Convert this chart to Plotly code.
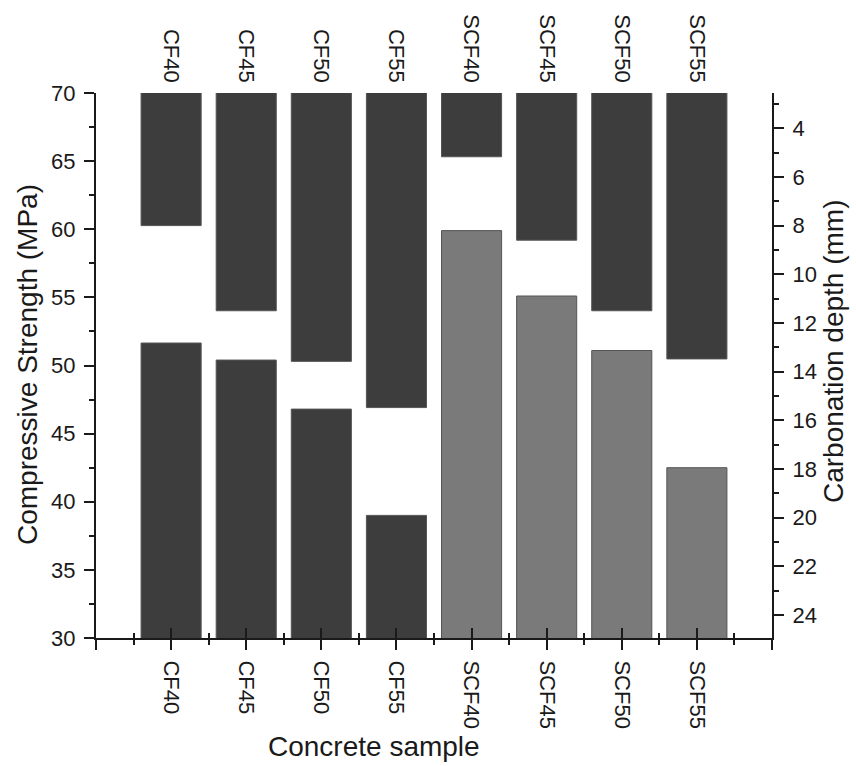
import plotly.graph_objects as go

# Concrete samples and measured properties
samples = ["CF40", "CF45", "CF50", "CF55", "SCF40", "SCF45", "SCF50", "SCF55"]
compressive_strength = [51.65, 50.4, 46.8, 39.0, 59.9, 55.1, 51.1, 42.5]   # MPa
carbonation_depth = [8.0, 11.5, 13.58, 15.48, 5.17, 8.6, 11.5, 13.48]      # mm

DARK = "#3d3d3d"
LIGHT = "#7a7a7a"
EDGE = "#555555"
AXIS = "#1a1a1a"
FONT = "Liberation Sans, Arial, sans-serif"

xpos = list(range(len(samples)))
strength_colors = [LIGHT if s.startswith("S") else DARK for s in samples]

fig = go.Figure()

# Compressive strength bars rising from the bottom axis
fig.add_trace(go.Bar(
    x=xpos, y=compressive_strength, width=0.8,
    marker=dict(color=strength_colors, line=dict(color=EDGE, width=1)),
    xaxis="x", yaxis="y", showlegend=False,
))

# Carbonation depth bars hanging from the top (reversed right axis)
fig.add_trace(go.Bar(
    x=xpos, y=carbonation_depth, width=0.8,
    marker=dict(color=DARK, line=dict(color=EDGE, width=1)),
    xaxis="x", yaxis="y2", showlegend=False,
))

tick_font = dict(family=FONT, size=22, color=AXIS)
title_font = dict(family=FONT, size=28, color=AXIS)

xrange = [-1, len(samples)]
major_x = [-1] + xpos + [len(samples)]
major_text = [""] + samples + [""]
minor_x = [p + 0.5 for p in [-1] + xpos]

fig.update_layout(
    width=856, height=766,
    margin=dict(l=96, r=84, t=93, b=128, autoexpand=False),
    paper_bgcolor="white", plot_bgcolor="white",
    barmode="overlay",
    font=dict(family=FONT, color=AXIS),
    xaxis=dict(
        range=xrange, tickmode="array", tickvals=major_x, ticktext=major_text,
        tickangle=90, tickfont=tick_font, automargin=False,
        ticks="outside", ticklen=10, tickwidth=1.5, tickcolor=AXIS,
        minor=dict(tickmode="array", tickvals=minor_x, ticks="outside",
                   ticklen=5, tickwidth=1.5, tickcolor=AXIS),
        showline=True, linecolor=AXIS, linewidth=2,
        showgrid=False, zeroline=False, ticklabelstandoff=6,
    ),
    # inner half of the crossing ticks on the bottom axis
    xaxis3=dict(
        overlaying="x", side="bottom", range=xrange, automargin=False,
        tickmode="array", tickvals=major_x, ticktext=[""] * len(major_x),
        ticks="inside", ticklen=10, tickwidth=1.5, tickcolor=AXIS,
        minor=dict(tickmode="array", tickvals=minor_x, ticks="inside",
                   ticklen=5, tickwidth=1.5, tickcolor=AXIS),
        showline=False, showgrid=False, zeroline=False,
    ),
    # sample labels along the top edge
    xaxis2=dict(
        overlaying="x", side="top", range=xrange, automargin=False,
        tickmode="array", tickvals=xpos, ticktext=samples,
        tickangle=90, tickfont=tick_font,
        ticks="", showline=False, showgrid=False, zeroline=False,
        ticklabelstandoff=6,
    ),
    yaxis=dict(
        range=[30, 70], dtick=5, tick0=30, tickfont=tick_font, automargin=False,
        ticks="outside", ticklen=10, tickwidth=1.5, tickcolor=AXIS,
        minor=dict(dtick=2.5, tick0=30, ticks="outside", ticklen=5,
                   tickwidth=1.5, tickcolor=AXIS),
        showline=True, linecolor=AXIS, linewidth=2,
        showgrid=False, zeroline=False, ticklabelstandoff=4,
    ),
    yaxis2=dict(
        overlaying="y", side="right", range=[24.95, 2.55], automargin=False,
        tickmode="linear", tick0=4, dtick=2, tickfont=tick_font,
        ticks="outside", ticklen=10, tickwidth=1.5, tickcolor=AXIS,
        minor=dict(dtick=1, tick0=3, ticks="outside", ticklen=5,
                   tickwidth=1.5, tickcolor=AXIS),
        showline=True, linecolor=AXIS, linewidth=2,
        showgrid=False, zeroline=False, ticklabelstandoff=4,
    ),
)

# empty traces so the extra x axes are drawn
fig.add_trace(go.Scatter(x=[None], y=[None], xaxis="x3", yaxis="y",
                         showlegend=False, hoverinfo="skip"))
fig.add_trace(go.Scatter(x=[None], y=[None], xaxis="x2", yaxis="y",
                         showlegend=False, hoverinfo="skip"))

W, H = 676, 545
def px_x(px):
    return (px - 96) / W
def px_y(py):
    return (638 - py) / H

fig.add_annotation(text="Compressive Strength (MPa)", textangle=-90,
                   x=px_x(27), y=px_y(365), xref="paper", yref="paper",
                   xanchor="center", yanchor="middle", showarrow=False,
                   font=title_font)
fig.add_annotation(text="Carbonation depth (mm)", textangle=-90,
                   x=px_x(833), y=px_y(352), xref="paper", yref="paper",
                   xanchor="center", yanchor="middle", showarrow=False,
                   font=title_font)
fig.add_annotation(text="Concrete sample",
                   x=px_x(374), y=px_y(746), xref="paper", yref="paper",
                   xanchor="center", yanchor="middle", showarrow=False,
                   font=title_font)

fig.write_html("out.html")
